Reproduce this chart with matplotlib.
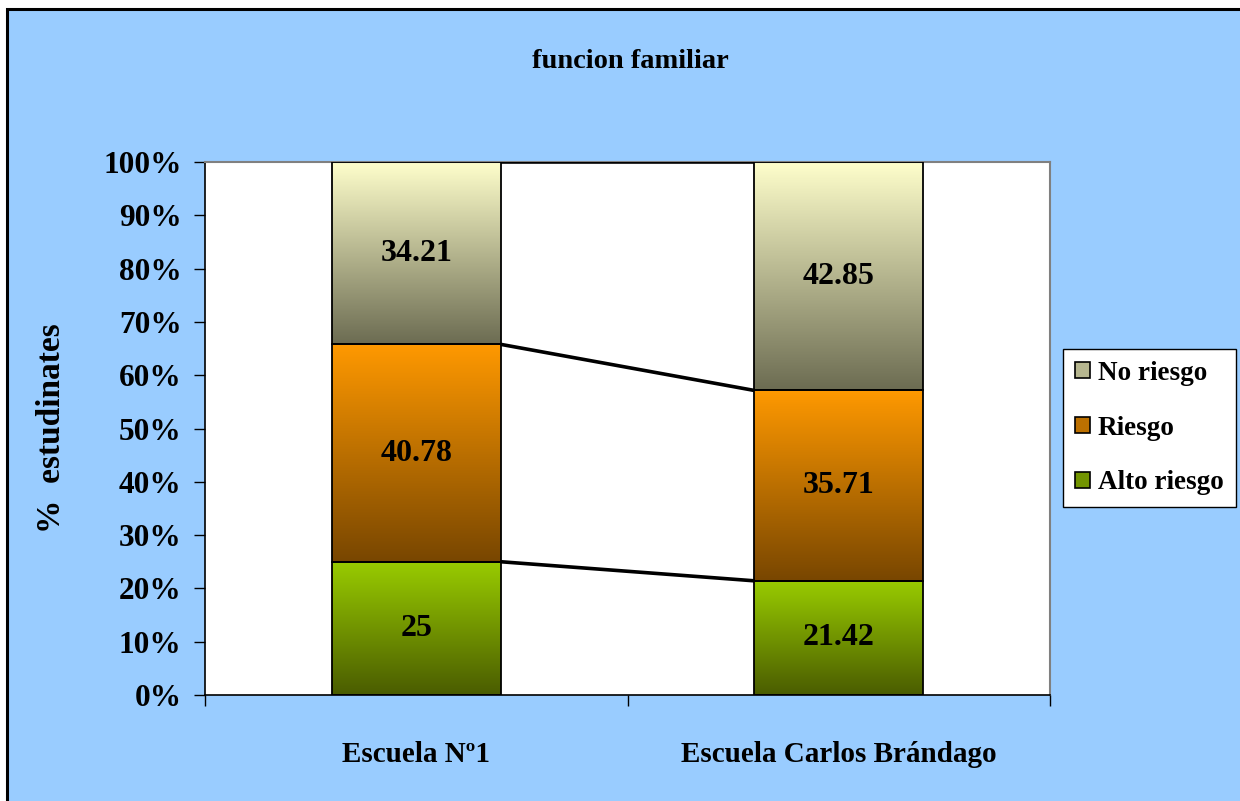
import matplotlib as mpl
mpl.use('Agg')
import matplotlib.pyplot as plt
from matplotlib.colors import LinearSegmentedColormap
from matplotlib.patches import Rectangle, Patch
import numpy as np


TITLE = 'funcion familiar'
YLABEL = '%  estudinates'
SCHOOLS = ['Escuela Nº1', 'Escuela Carlos Brándago']
SERIES = ['Alto riesgo', 'Riesgo', 'No riesgo']   # stacked bottom -> top

ALTO_RIESGO = [25, 21.42]
RIESGO = [40.78, 35.71]
NO_RIESGO = [34.21, 42.85]

# vertical gradients, (top colour, bottom colour)
GRADIENTS = {
    'Alto riesgo': ('#99CC00', '#4A5C00'),
    'Riesgo': ('#FF9900', '#784600'),
    'No riesgo': ('#FFFFCC', '#6C6C52'),
}

BG = '#99CCFF'
FONT = 'Liberation Serif'
BAR_W = 0.4

plt.rcParams['font.family'] = [FONT, 'DejaVu Serif']
plt.rcParams['font.weight'] = 'bold'

fig = plt.figure(figsize=(12.4, 8.01), dpi=100, facecolor='white')

# blue chart area, frame only shows on the left / top
fig.patches.append(Rectangle((7 / 1240, -0.1), 1.2, 1.1 - 9.5 / 801, transform=fig.transFigure,
                             facecolor=BG, edgecolor='black', linewidth=2.2, zorder=-10))

ax = fig.add_axes([205 / 1240, 1 - 695 / 801, 845 / 1240, 533 / 801])
ax.set_zorder(2)
ax.set_facecolor('white')

values = np.array([ALTO_RIESGO, RIESGO, NO_RIESGO], dtype=float)
shares = values / values.sum(axis=0)
tops = np.cumsum(shares, axis=0)
bottoms = tops - shares
x = np.arange(len(SCHOOLS))

for i, name in enumerate(SERIES):
    cmap = LinearSegmentedColormap.from_list(name, [GRADIENTS[name][1], GRADIENTS[name][0]])
    grad = np.linspace(0, 1, 256).reshape(-1, 1)
    for j in x:
        x0, x1 = j - BAR_W / 2, j + BAR_W / 2
        y0, y1 = bottoms[i, j], tops[i, j]
        ax.imshow(grad, cmap=cmap, origin='lower', aspect='auto',
                  extent=(x0, x1, y0, y1), interpolation='bilinear', zorder=2)
        ax.add_patch(Rectangle((x0, y0), BAR_W, y1 - y0, facecolor='none',
                               edgecolor='black', linewidth=1.3, zorder=3))
        ax.text(j, (y0 + y1) / 2, f'{values[i, j]:g}', ha='center', va='center',
                fontsize=23, fontweight='bold', zorder=4)
    # series line between the two bars
    ax.plot([x[0] + BAR_W / 2, x[1] - BAR_W / 2], [tops[i, 0], tops[i, 1]],
            color='black', linewidth=2.6, zorder=3, solid_capstyle='butt')

ax.set_xlim(-0.5, len(SCHOOLS) - 0.5)
ax.set_ylim(0, 1)

ax.set_yticks(np.linspace(0, 1, 11))
ax.set_yticklabels([f'{int(round(v * 100))}%' for v in np.linspace(0, 1, 11)])
ax.tick_params(axis='y', direction='out', length=8, width=1, pad=9,
               labelsize=22.5, colors='black')

ax.set_xticks([-0.5, 0.5, 1.5])
ax.set_xticklabels([])
ax.set_xticks(x, minor=True)
ax.set_xticklabels(SCHOOLS, minor=True, fontsize=21, fontweight='bold')
ax.tick_params(axis='x', which='major', direction='out', length=8, width=1)
ax.tick_params(axis='x', which='minor', length=0, pad=33)

for side in ['top', 'right']:
    ax.spines[side].set_color('#808080')
    ax.spines[side].set_linewidth(1.5)
for side in ['left', 'bottom']:
    ax.spines[side].set_color('black')
    ax.spines[side].set_linewidth(1.2)

fig.text(630 / 1240, 1 - 61 / 801, TITLE, ha='center', va='center',
         fontsize=20.5, fontweight='bold')
fig.text(52 / 1240, 1 - 428 / 801, YLABEL, ha='center', va='center',
         rotation=90, fontsize=24, fontweight='bold')

# legend swatches use the mid tone of each gradient
handles = []
for n in SERIES[::-1]:
    top, bot = (np.array(mpl.colors.to_rgb(c)) for c in GRADIENTS[n])
    handles.append(Patch(facecolor=(top + bot) / 2, edgecolor='black',
                         linewidth=1.2, label=n))
leg = fig.legend(handles=handles, loc='center right',
                 bbox_to_anchor=(1236 / 1240, 1 - 428 / 801),
                 prop={'family': FONT, 'weight': 'bold', 'size': 19.5},
                 frameon=True, fancybox=False, edgecolor='black', framealpha=1,
                 handlelength=0.55, handleheight=0.55, handletextpad=0.3,
                 labelspacing=1.1, borderpad=0.45, borderaxespad=0)
leg.get_frame().set_linewidth(1.0)
leg.set_zorder(5)

fig.savefig('out.png', dpi=100, facecolor=fig.get_facecolor())
